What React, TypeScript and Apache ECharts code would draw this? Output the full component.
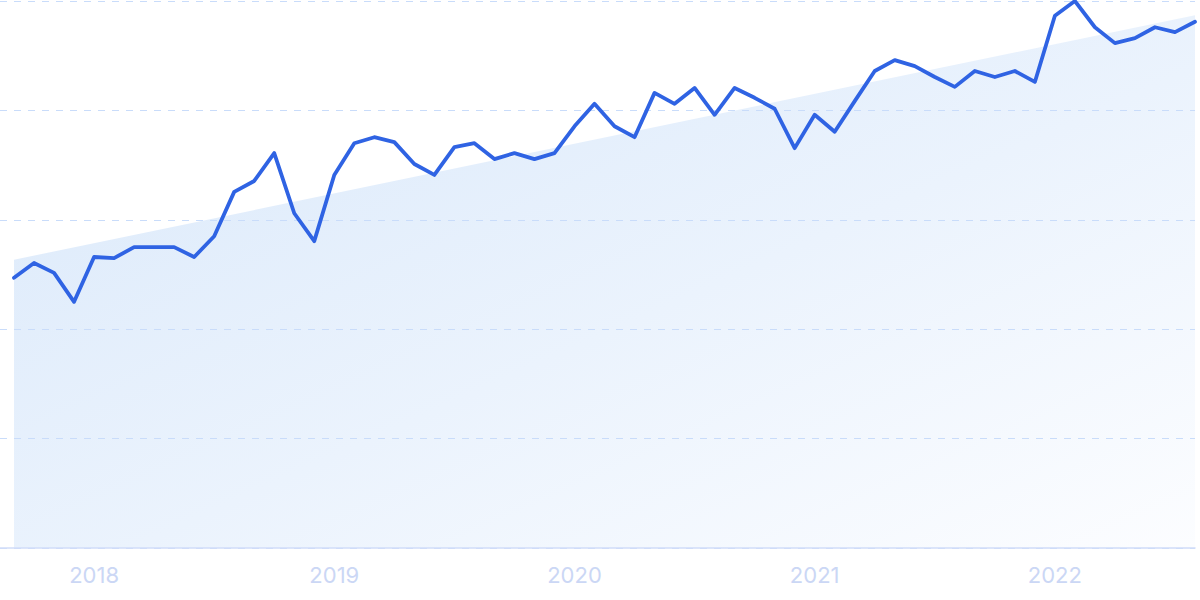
import React, { useEffect, useRef } from "react";
import * as echarts from "echarts";

const months: string[] = [
  "2017-09", "2017-10", "2017-11", "2017-12",
  "2018-01", "2018-02", "2018-03", "2018-04", "2018-05", "2018-06", "2018-07", "2018-08", "2018-09", "2018-10", "2018-11", "2018-12",
  "2019-01", "2019-02", "2019-03", "2019-04", "2019-05", "2019-06", "2019-07", "2019-08", "2019-09", "2019-10", "2019-11", "2019-12",
  "2020-01", "2020-02", "2020-03", "2020-04", "2020-05", "2020-06", "2020-07", "2020-08", "2020-09", "2020-10", "2020-11", "2020-12",
  "2021-01", "2021-02", "2021-03", "2021-04", "2021-05", "2021-06", "2021-07", "2021-08", "2021-09", "2021-10", "2021-11", "2021-12",
  "2022-01", "2022-02", "2022-03", "2022-04", "2022-05", "2022-06", "2022-07", "2022-08",
];

const values: number[] = [
  49.4, 52.1, 50.3, 45.0,
  53.2, 53.0, 55.0, 55.0, 55.0, 53.2, 57.0, 65.1, 67.1, 72.2, 61.2, 56.1,
  68.2, 74.0, 75.1, 74.2, 70.2, 68.2, 73.3, 74.0, 71.1, 72.2, 71.1, 72.2,
  77.1, 81.2, 77.1, 75.1, 83.2, 81.2, 84.1, 79.2, 84.1, 82.3, 80.3, 73.1,
  79.2, 76.1, 81.7, 87.2, 89.2, 88.1, 86.1, 84.3, 87.2, 86.1, 87.2, 85.2,
  97.3, 100.0, 95.2, 92.3, 93.2, 95.2, 94.3, 96.2,
];

// linear trend: value at first month and at last month
const trendStart = 52.7;
const trendEnd = 97.4;

const yearLabels: string[] = ["2018", "2019", "2020", "2021", "2022"];

export default function App() {
  const ref = useRef<HTMLDivElement>(null);

  useEffect(() => {
    if (!ref.current) return;
    const chart = echarts.init(ref.current, undefined, { renderer: "svg" });

    const lineData = values.map((v, i) => [i, v]);
    const trendData = [
      [0, trendStart],
      [values.length - 1, trendEnd],
    ];
    const yearTicks = yearLabels.map((y) => months.indexOf(y + "-01"));

    chart.setOption({
      animation: false,
      grid: { left: 0, right: 5, top: 1, bottom: 52, containLabel: false },
      xAxis: {
        type: "value",
        min: -0.7,
        max: values.length - 1,
        z: 2,
        axisLine: { show: true, lineStyle: { color: "#d0dcf9", width: 1.5 } },
        axisTick: { show: false },
        splitLine: { show: false },
        axisLabel: {
          customValues: yearTicks,
          formatter: (v: number) => {
            const k = yearTicks.indexOf(Math.round(v));
            return k >= 0 ? yearLabels[k] : "";
          },
          color: "#cbd7f5",
          fontFamily: "Inter",
          fontSize: 22,
          margin: 16,
        },
      },
      yAxis: {
        type: "value",
        min: 0,
        max: 100,
        interval: 20,
        z: 2,
        axisLine: { show: false },
        axisTick: { show: false },
        axisLabel: { show: false },
        splitLine: {
          show: true,
          lineStyle: { color: "#c9dcfa", type: [7, 7], width: 1 },
        },
      },
      series: [
        {
          type: "line",
          data: trendData,
          symbol: "none",
          silent: true,
          z: 1,
          lineStyle: { width: 0, opacity: 0 },
          areaStyle: {
            opacity: 1,
            color: new echarts.graphic.LinearGradient(0, 0, 1, 1, [
              { offset: 0, color: "#d9e8fa" },
              { offset: 0.55, color: "#ebf3fd" },
              { offset: 1, color: "#fcfdff" },
            ]),
          },
        },
        {
          type: "line",
          data: lineData,
          symbol: "none",
          z: 3,
          lineStyle: { color: "#2f63e3", width: 3.8, join: "round", cap: "round" },
        },
      ],
    });

    return () => chart.dispose();
  }, []);

  return (
    <div
      ref={ref}
      style={{ position: "fixed", left: 0, top: 0, width: 1200, height: 600, background: "#ffffff" }}
    />
  );
}
